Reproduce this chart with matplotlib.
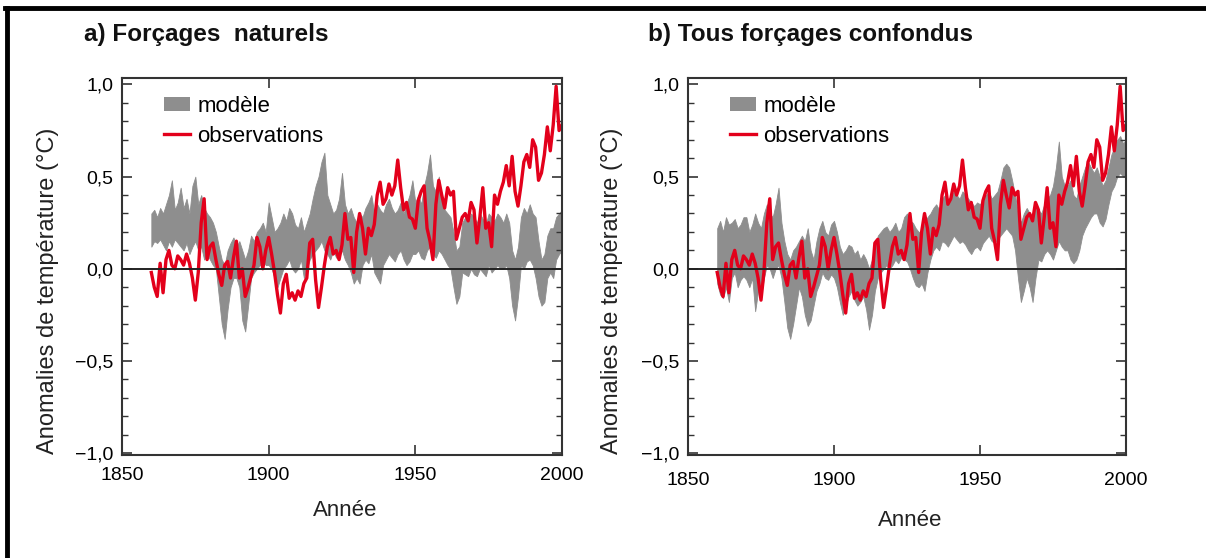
import matplotlib
matplotlib.use("Agg")
import matplotlib.pyplot as plt
from matplotlib.lines import Line2D
from matplotlib.patches import Patch
import numpy as np

plt.rcParams['font.family'] = ['Liberation Sans', 'DejaVu Sans']

years = list(range(1860, 2001))

observations = [
    -0.02, -0.10, -0.15, 0.03, -0.13, 0.05, 0.10, 0.02, 0.00, 0.07,
    0.05, 0.02, 0.08, 0.03, -0.05, -0.17, -0.02, 0.25, 0.38, 0.05,
    0.12, 0.14, 0.05, -0.03, -0.09, 0.02, 0.04, -0.05, 0.06, 0.15,
    -0.05, 0.00, -0.15, -0.10, -0.04, 0.02, 0.17, 0.12, 0.00, 0.10,
    0.17, 0.08, -0.02, -0.14, -0.24, -0.08, -0.03, -0.16, -0.13, -0.17,
    -0.12, -0.15, -0.08, -0.05, 0.14, 0.16, -0.06, -0.21, -0.10, 0.02,
    0.12, 0.17, 0.08, 0.10, 0.05, 0.13, 0.30, 0.16, 0.17, -0.02,
    0.20, 0.30, 0.22, 0.08, 0.22, 0.18, 0.24, 0.40, 0.47, 0.35,
    0.38, 0.46, 0.40, 0.45, 0.59, 0.44, 0.32, 0.36, 0.28, 0.27,
    0.22, 0.37, 0.42, 0.45, 0.22, 0.15, 0.05, 0.35, 0.48, 0.40,
    0.33, 0.44, 0.40, 0.42, 0.16, 0.22, 0.28, 0.30, 0.26, 0.36,
    0.32, 0.14, 0.28, 0.44, 0.22, 0.25, 0.12, 0.40, 0.35, 0.42,
    0.47, 0.56, 0.45, 0.61, 0.42, 0.34, 0.45, 0.58, 0.62, 0.55,
    0.70, 0.66, 0.48, 0.52, 0.62, 0.77, 0.64, 0.78, 0.99, 0.75, 0.78,
]

natural_upper = [
    0.30, 0.32, 0.28, 0.33, 0.30, 0.35, 0.40, 0.48, 0.32, 0.36,
    0.44, 0.33, 0.38, 0.30, 0.45, 0.50, 0.35, 0.40, 0.33, 0.30,
    0.28, 0.25, 0.20, 0.12, 0.05, 0.02, 0.10, 0.14, 0.17, 0.12,
    0.15, 0.10, 0.05, 0.10, 0.18, 0.15, 0.20, 0.22, 0.25, 0.20,
    0.36, 0.28, 0.20, 0.22, 0.25, 0.30, 0.26, 0.33, 0.30, 0.24,
    0.22, 0.28, 0.20, 0.25, 0.30, 0.38, 0.45, 0.50, 0.58, 0.63,
    0.40, 0.35, 0.30, 0.32, 0.38, 0.52, 0.35, 0.30, 0.33, 0.28,
    0.25, 0.30, 0.28, 0.33, 0.36, 0.40, 0.30, 0.35, 0.32, 0.30,
    0.35, 0.38, 0.33, 0.30, 0.32, 0.36, 0.30, 0.35, 0.40, 0.48,
    0.36, 0.40, 0.35, 0.45, 0.52, 0.62, 0.45, 0.42, 0.50, 0.38,
    0.32, 0.30, 0.28, 0.20, 0.10, 0.12, 0.25, 0.28, 0.26, 0.30,
    0.28, 0.25, 0.30, 0.27, 0.24, 0.30, 0.28, 0.26, 0.30, 0.28,
    0.25, 0.30, 0.25, 0.10, 0.05, 0.12, 0.28, 0.33, 0.30, 0.35,
    0.30, 0.28, 0.15, 0.05, 0.08, 0.18, 0.22, 0.22, 0.28, 0.30, 0.32,
]

natural_lower = [
    0.12, 0.15, 0.14, 0.16, 0.13, 0.10, 0.15, 0.12, 0.16, 0.14,
    0.12, 0.10, 0.14, 0.08, 0.12, 0.15, 0.10, 0.12, 0.05, 0.08,
    0.05, 0.02, 0.00, -0.15, -0.30, -0.38, -0.22, -0.10, -0.05, -0.05,
    -0.10, -0.28, -0.34, -0.20, -0.05, -0.02, 0.00, 0.02, 0.05, 0.02,
    0.02, 0.00, -0.05, -0.10, -0.05, 0.00, 0.02, 0.05, 0.00, -0.02,
    0.00, 0.05, -0.05, 0.00, 0.05, 0.08, 0.10, 0.12, 0.15, 0.10,
    0.08, 0.05, 0.10, 0.06, 0.08, 0.10, 0.05, 0.02, -0.02, -0.08,
    -0.05, -0.08, 0.02, 0.05, 0.03, 0.08, -0.02, -0.05, -0.08, 0.02,
    0.05, 0.08, 0.06, 0.04, 0.08, 0.10, 0.05, 0.02, 0.04, 0.08,
    0.08, 0.10, 0.06, 0.05, 0.10, 0.12, 0.08, 0.06, 0.10, 0.08,
    0.05, 0.02, 0.00, -0.10, -0.19, -0.15, -0.02, -0.03, -0.04, 0.00,
    -0.03, -0.04, 0.00, -0.02, -0.04, 0.02, -0.02, 0.00, 0.02, 0.00,
    0.00, 0.02, -0.05, -0.20, -0.28, -0.15, 0.02, 0.00, 0.04, 0.05,
    0.02, -0.05, -0.15, -0.20, -0.18, -0.05, -0.02, -0.05, 0.05, 0.08, 0.10,
]

all_upper = [
    0.22, 0.26, 0.20, 0.28, 0.24, 0.25, 0.27, 0.22, 0.24, 0.28,
    0.28, 0.20, 0.24, 0.30, 0.25, 0.22, 0.30, 0.35, 0.30, 0.28,
    0.35, 0.44, 0.25, 0.15, 0.08, 0.05, 0.10, 0.12, 0.15, 0.18,
    0.15, 0.22, 0.10, 0.05, 0.15, 0.22, 0.26, 0.20, 0.18, 0.24,
    0.26, 0.20, 0.12, 0.08, 0.10, 0.13, 0.12, 0.08, 0.10, 0.05,
    0.08, 0.05, 0.00, 0.05, 0.10, 0.18, 0.20, 0.22, 0.23, 0.20,
    0.22, 0.25, 0.20, 0.22, 0.28, 0.30, 0.26, 0.25, 0.22, 0.20,
    0.20, 0.25, 0.28, 0.30, 0.33, 0.35, 0.32, 0.38, 0.40, 0.36,
    0.38, 0.42, 0.40, 0.38, 0.42, 0.40, 0.38, 0.36, 0.34, 0.36,
    0.35, 0.38, 0.40, 0.42, 0.38, 0.40, 0.42, 0.48, 0.55, 0.57,
    0.55, 0.48, 0.40, 0.30, 0.25, 0.30, 0.33, 0.30, 0.28, 0.33,
    0.32, 0.30, 0.35, 0.38, 0.40, 0.45, 0.55, 0.69, 0.50, 0.45,
    0.45, 0.48, 0.40, 0.38, 0.45, 0.50, 0.55, 0.58, 0.55, 0.52,
    0.55, 0.50, 0.45, 0.48, 0.55, 0.62, 0.66, 0.70, 0.72, 0.68, 0.70,
]

all_lower = [
    -0.08, -0.14, -0.16, -0.10, -0.18, -0.05, -0.02, -0.10, -0.06, -0.04,
    -0.06, -0.10, -0.05, -0.23, -0.12, -0.15, -0.05, 0.02, 0.00, -0.05,
    0.00, 0.02, -0.05, -0.18, -0.32, -0.38, -0.30, -0.20, -0.10, -0.15,
    -0.25, -0.31, -0.28, -0.20, -0.12, -0.08, -0.02, -0.05, -0.06, -0.03,
    -0.05, -0.10, -0.18, -0.25, -0.20, -0.15, -0.12, -0.17, -0.20, -0.18,
    -0.15, -0.22, -0.33, -0.25, -0.12, -0.05, -0.02, 0.00, 0.02, 0.00,
    0.02, 0.05, 0.03, 0.06, 0.05, 0.04, 0.00, -0.05, -0.09, -0.10,
    -0.08, -0.12, -0.02, 0.05, 0.10, 0.12, 0.10, 0.15, 0.14, 0.12,
    0.15, 0.18, 0.16, 0.14, 0.15, 0.13, 0.10, 0.08, 0.11, 0.12,
    0.10, 0.14, 0.16, 0.18, 0.15, 0.14, 0.16, 0.18, 0.20, 0.22,
    0.20, 0.18, 0.10, -0.05, -0.18, -0.12, -0.05, -0.10, -0.18, -0.05,
    0.05, 0.04, 0.08, 0.10, 0.08, 0.05, 0.10, 0.15, 0.12, 0.10,
    0.10, 0.05, 0.03, 0.05, 0.10, 0.18, 0.22, 0.25, 0.28, 0.30,
    0.30, 0.25, 0.23, 0.27, 0.35, 0.42, 0.45, 0.50, 0.52, 0.50, 0.50,
]

titles = ["a) Forçages  naturels", "b) Tous forçages confondus"]
legend_labels = ["modèle", "observations"]
ylabel = "Anomalies de température (°C)"
xlabel = "Année"
ytick_values = [-1.0, -0.5, 0.0, 0.5, 1.0]
ytick_labels = ["\u22121,0", "\u22120,5", "0,0", "0,5", "1,0"]
xtick_values = [1850, 1900, 1950, 2000]
xtick_labels = ["1850", "1900", "1950", "2000"]

W, H = 1206, 558
fig = plt.figure(figsize=(W / 100, H / 100), dpi=100)
fig.patch.set_facecolor("white")

GRAY = "#8e8e8e"
RED = "#e3001b"

panels = [
    dict(left=122, right=562, title_x=84, ylab_x=48, xlab_y=510, tpad=9,
         lower=natural_lower, upper=natural_upper),
    dict(left=688, right=1126, title_x=648, ylab_x=612, xlab_y=521, tpad=12,
         lower=all_lower, upper=all_upper),
]
top_px, bot_px = 78, 455

for i, p in enumerate(panels):
    ax = fig.add_axes([p["left"] / W, 1 - bot_px / H,
                       (p["right"] - p["left"]) / W, (bot_px - top_px) / H])
    ax.fill_between(years, p["lower"], p["upper"], color=GRAY, lw=0.6,
                    edgecolor=GRAY)
    ax.plot(years, observations, color=RED, lw=2.4)
    ax.axhline(0, color="#222222", lw=1.4, zorder=3)
    ax.set_xlim(1850, 2000)
    ax.set_ylim(-1.01, 1.035)
    ax.set_yticks(ytick_values)
    ax.set_yticklabels(ytick_labels)
    ax.set_xticks(xtick_values)
    ax.set_xticklabels(xtick_labels)
    ax.set_yticks(np.arange(-1.0, 1.01, 0.1), minor=True)
    ax.tick_params(axis="both", which="major", direction="in", length=7,
                   width=1.2, labelsize=14, color="#333333", pad=6)
    ax.tick_params(axis="x", which="major", pad=p["tpad"])
    ax.tick_params(axis="y", which="both", left=True, right=True)
    ax.tick_params(axis="x", which="both", bottom=True, top=True)
    ax.tick_params(axis="y", which="minor", direction="in", length=4,
                   width=1.0, color="#333333")
    ax.tick_params(axis="x", which="minor", bottom=False, top=False)
    for s in ax.spines.values():
        s.set_color("#333333")
        s.set_linewidth(1.5)
    handles = [Patch(facecolor=GRAY, edgecolor="none"),
               Line2D([0], [0], color=RED, lw=2.4)]
    ax.legend(handles, legend_labels, loc="upper left",
              bbox_to_anchor=(0.068, 0.985), frameon=False, fontsize=16,
              handlelength=1.15, handleheight=0.6, handletextpad=0.35,
              labelspacing=0.4, borderaxespad=0.15)
    fig.text(p["title_x"] / W, 1 - 34 / H, titles[i], fontsize=17.5,
             fontweight="bold", ha="left", va="center", color="#111111")
    fig.text(p["ylab_x"] / W, 1 - 291 / H, ylabel, fontsize=17,
             rotation=90, ha="center", va="center", color="#222222")
    fig.text((p["left"] + p["right"]) / 2 / W + 0.003, 1 - p["xlab_y"] / H,
             xlabel, fontsize=16, ha="center", va="center", color="#222222")

# outer frame (top and left black border)
fig.add_artist(Line2D([5 / W, 1.0], [1 - 8 / H, 1 - 8 / H], color="black",
                      lw=3.5, transform=fig.transFigure))
fig.add_artist(Line2D([7 / W, 7 / W], [0.0, 1 - 8 / H], color="black",
                      lw=3.5, transform=fig.transFigure))

fig.savefig("out.png", dpi=100, facecolor="white")
